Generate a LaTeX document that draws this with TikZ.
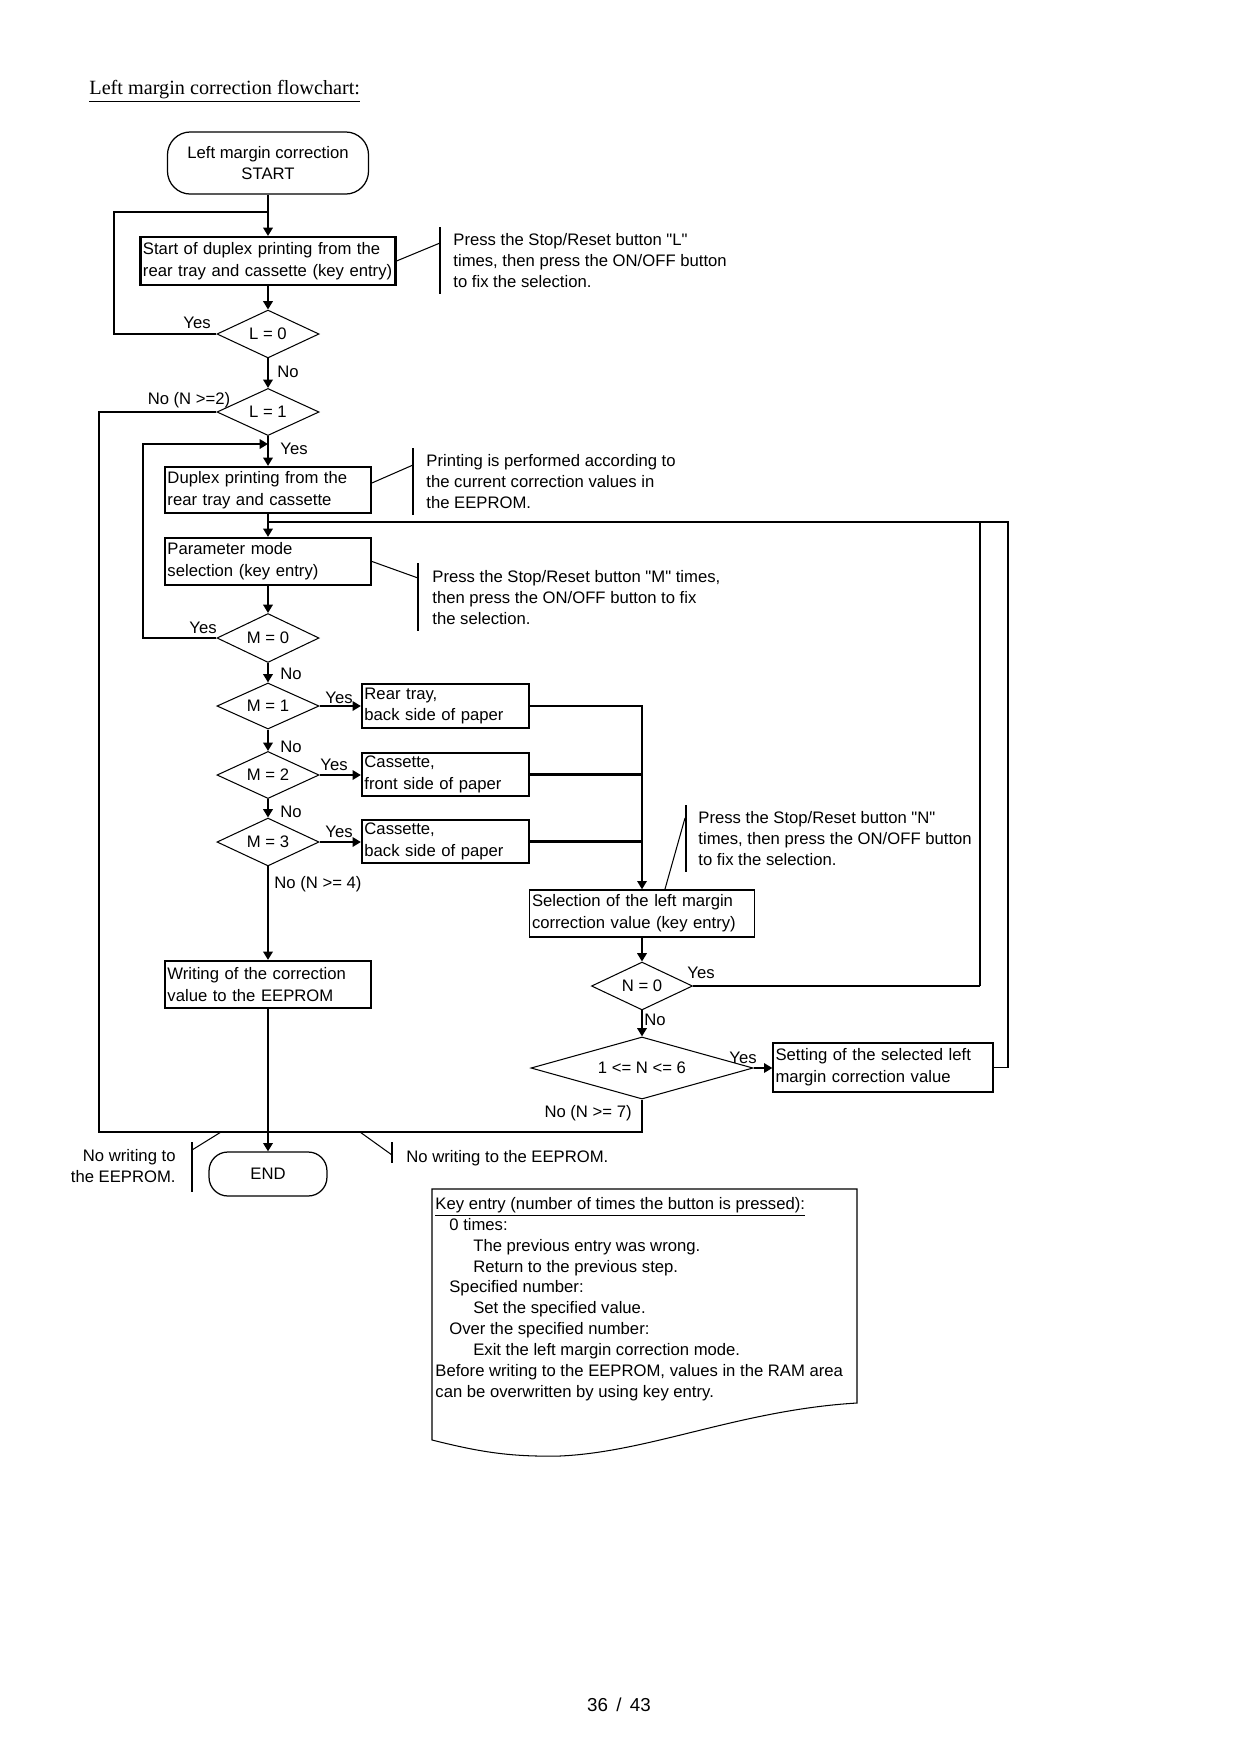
\documentclass[tikz,border=0pt]{standalone}
\usepackage{fontspec}
\setmainfont{Liberation Sans}[Ligatures=TeXOff]
\newfontfamily\titlefont{Liberation Serif}
\usetikzlibrary{shapes.geometric,arrows.meta}
\newcommand{\boxfont}{\fontsize{8}{10.5}\selectfont}
\newcommand{\notefont}{\fontsize{8}{10}\selectfont}
\tikzset{
	flow/.style={line width=1pt},
	thinline/.style={line width=0.5pt},
	procbox/.style={draw,line width=1pt,rectangle,align=left,inner xsep=1.2pt,inner ysep=0pt,font=\boxfont},
	selbox/.style={procbox,line width=0.6pt},
	decision/.style={draw,line width=0.5pt,diamond,shape aspect=2.1,inner sep=0pt,font=\boxfont},
	terminal/.style={draw,line width=0.6pt,rectangle,rounded corners=11pt,align=center,inner sep=0pt,font=\boxfont},
	lbl/.style={inner sep=0pt,font=\boxfont},
	note/.style={inner sep=0pt,align=left,anchor=north west,font=\notefont},
}
\begin{document}
\begin{tikzpicture}[x=0.48pt,y=-0.48pt,>={Triangle[length=4pt,width=4.5pt]},line join=miter]
	\useasboundingbox (0,0) rectangle (1240,1754);
	\node[anchor=base west,inner sep=0pt,font=\titlefont\fontsize{9.7}{12}\selectfont] (title) at (89,94) {\underline{Left margin correction flowchart:}};
	% main column
	\node[terminal,minimum width=96.5pt,minimum height=29.8pt] (start) at (268,163) {Left margin correction\\START};
	\node[procbox,minimum width=122.4pt,minimum height=23pt,text width=120pt] (box1) at (268,261) {Start of duplex printing from the\\rear tray and cassette (key entry)};
	\node[decision,minimum width=49pt,minimum height=23pt] (L0) at (268,334) {L = 0};
	\node[decision,minimum width=49pt,minimum height=22.6pt] (L1) at (268,412) {L = 1};
	\node[procbox,minimum width=98.9pt,minimum height=22.1pt,text width=96.5pt] (box2) at (268,490) {Duplex printing from the\\rear tray and cassette};
	\node[procbox,minimum width=98.9pt,minimum height=22.6pt,text width=96.5pt] (box3) at (268,561.5) {Parameter mode\\selection (key entry)};
	\node[decision,minimum width=49pt,minimum height=23.5pt] (M0) at (268,638) {M = 0};
	\node[decision,minimum width=49pt,minimum height=22.1pt] (M1) at (268,706) {M = 1};
	\node[decision,minimum width=49pt,minimum height=22.6pt] (M2) at (268,775) {M = 2};
	\node[decision,minimum width=49pt,minimum height=23pt] (M3) at (268,842) {M = 3};
	\node[procbox,minimum width=98.9pt,minimum height=22.6pt,text width=96.5pt] (box7) at (268,984.5) {Writing of the correction\\value to the EEPROM};
	\node[terminal,minimum width=56.6pt,minimum height=21.1pt,rounded corners=9pt] (end) at (268,1174) {END};
	% side column
	\node[procbox,minimum width=80.2pt,minimum height=21.1pt,text width=77.8pt] (box4) at (445.5,706) {Rear tray,\\back side of paper};
	\node[procbox,minimum width=80.2pt,minimum height=20.6pt,text width=77.8pt] (box5) at (445.5,774.5) {Cassette,\\front side of paper};
	\node[procbox,minimum width=80.2pt,minimum height=20.6pt,text width=77.8pt] (box6) at (445.5,841.5) {Cassette,\\back side of paper};
	\node[selbox,minimum width=108pt,minimum height=22.6pt,text width=105.6pt] (sel) at (642,913.5) {Selection of the left margin\\correction value (key entry)};
	\node[decision,minimum width=48.5pt,minimum height=23pt] (N0) at (642,986) {N = 0};
	\node[decision,shape aspect=3.6,minimum width=106.6pt,minimum height=29.8pt] (N16) at (642,1068) {1 <= N <= 6};
	\node[selbox,minimum width=105.6pt,minimum height=23.5pt,text width=103.2pt] (set) at (883,1067.5) {Setting of the selected left\\margin correction value};
	\coordinate (j1) at (268,212);
	\coordinate (j2) at (268,444);
	\coordinate (j3) at (268,522);
	\coordinate (jb) at (642,1132);
	\coordinate (r1) at (980,522);
	\coordinate (r2) at (1008,522);
	% connectors
	\draw[flow,->] (start) -- (box1);
	\draw[flow] (L0.west) -- ++(-102,0) |- (j1);
	\draw[flow,->] (box1) -- (L0);
	\draw[flow,->] (L0) -- (L1);
	\draw[flow] (L1.west) -| (99,1132) -- (jb) -- (N16.south);
	\draw[flow,->] (L1) -- (box2);
	\draw[flow,->] (M0.west) -- ++(-73,0) |- (j2);
	\draw[flow,->] (box2) -- (box3);
	\draw[flow,->] (box3) -- (M0);
	\draw[flow,->] (M0) -- (M1);
	\draw[flow,->] (M1) -- (M2);
	\draw[flow,->] (M2) -- (M3);
	\draw[flow,->] (M3) -- (box7);
	\draw[flow,->] (box7) -- (end);
	\draw[flow,->] (M1.east) -- (M1.east -| box4.west);
	\draw[flow,->] (M2.east) -- (M2.east -| box5.west);
	\draw[flow,->] (M3.east) -- (M3.east -| box6.west);
	\draw[flow,->] (box4.east) -| (sel.north);
	\draw[flow] (box5.east) -- (box5.east -| sel.north);
	\draw[flow] (box6.east) -- (box6.east -| sel.north);
	\draw[flow,->] (sel) -- (N0);
	\draw[flow,->] (N0) -- (N16);
	\draw[flow,->] (N16.east) -- (N16.east -| set.west);
	\draw[flow] (N0.east) -- (N0.east -| r1);
	\draw[thinline] (N0.east -| r1) -- (r1);
	\draw[thinline] (set.east) -| (r2) -- (j3);
	% branch labels
	\node[lbl] (yes0) at (197,323) {Yes};
	\node[lbl] (no0) at (288,372) {No};
	\node[lbl] (no1) at (189,400) {No (N >=2)};
	\node[lbl] (yes1) at (294,449) {Yes};
	\node[lbl] (yesm0) at (203,628) {Yes};
	\node[lbl] (nom0) at (291,674) {No};
	\node[lbl] (yesm1) at (339,698) {Yes};
	\node[lbl] (nom1) at (291,747) {No};
	\node[lbl] (yesm2) at (334,765) {Yes};
	\node[lbl] (nom2) at (291,812) {No};
	\node[lbl] (yesm3) at (339,832) {Yes};
	\node[lbl,anchor=west] (nom3) at (274,884) {No (N >= 4)};
	\node[lbl] (yesn0) at (701,973) {Yes};
	\node[lbl] (non0) at (655,1020) {No};
	\node[lbl] (yesn1) at (743,1058) {Yes};
	\node[lbl,anchor=east] (non1) at (632,1113) {No (N >= 7)};
	% notes
	\draw[thinline] (440,227) -- (440,294);
	\draw[thinline] (box1.east) -- (440,243);
	\node[note] (noteL) at (453,233) {Press the Stop/Reset button "L"\\times, then press the ON/OFF button\\to fix the selection.};
	\draw[thinline] (413,448) -- (413,515);
	\draw[thinline] ([yshift=3.4pt]box2.east) -- (413,465);
	\node[note] (noteP) at (426,454) {Printing is performed according to\\the current correction values in\\the EEPROM.};
	\draw[thinline] (418,563) -- (418,631);
	\draw[thinline] (box3.east) -- (418,578);
	\node[note] (noteM) at (432,570) {Press the Stop/Reset button "M" times,\\then press the ON/OFF button to fix\\the selection.};
	\draw[thinline] (686,805) -- (686,872);
	\draw[thinline] (685,818) -- ([xshift=11pt]sel.north);
	\node[note] (noteN) at (698,811) {Press the Stop/Reset button "N"\\times, then press the ON/OFF button\\to fix the selection.};
	\draw[thinline] (192,1142) -- (192,1192);
	\draw[thinline] (192,1150) -- (221,1132);
	\node[note,anchor=north east,align=right] (noteW1) at (176,1149) {No writing to\\the EEPROM.};
	\draw[thinline] (392,1142) -- (392,1163);
	\draw[thinline] (360,1132) -- (392,1155);
	\node[note] (noteW2) at (406,1150) {No writing to the EEPROM.};
	% key entry sheet
	\draw[thinline] (432,1189) -- (857,1189) -- (857,1403) .. controls (740,1410) and (650,1452) .. (560,1456) .. controls (510,1457) and (480,1452) .. (432,1440) -- cycle;
	\node[note] (keytext) at (435,1197) {\underline{Key entry (number of times the button is pressed):}\\
		\hspace*{6.7pt}0 times:\\
		\hspace*{18.2pt}The previous entry was wrong.\\
		\hspace*{18.2pt}Return to the previous step.\\
		\hspace*{6.7pt}Specified number:\\
		\hspace*{18.2pt}Set the specified value.\\
		\hspace*{6.7pt}Over the specified number:\\
		\hspace*{18.2pt}Exit the left margin correction mode.\\
		Before writing to the EEPROM, values in the RAM area\\
		can be overwritten by using key entry.};
	\node[inner sep=0pt,font=\fontsize{9}{11}\selectfont] (pageno) at (619,1705) {36\hspace{4pt}/\hspace{4pt}43};
\end{tikzpicture}
\end{document}
